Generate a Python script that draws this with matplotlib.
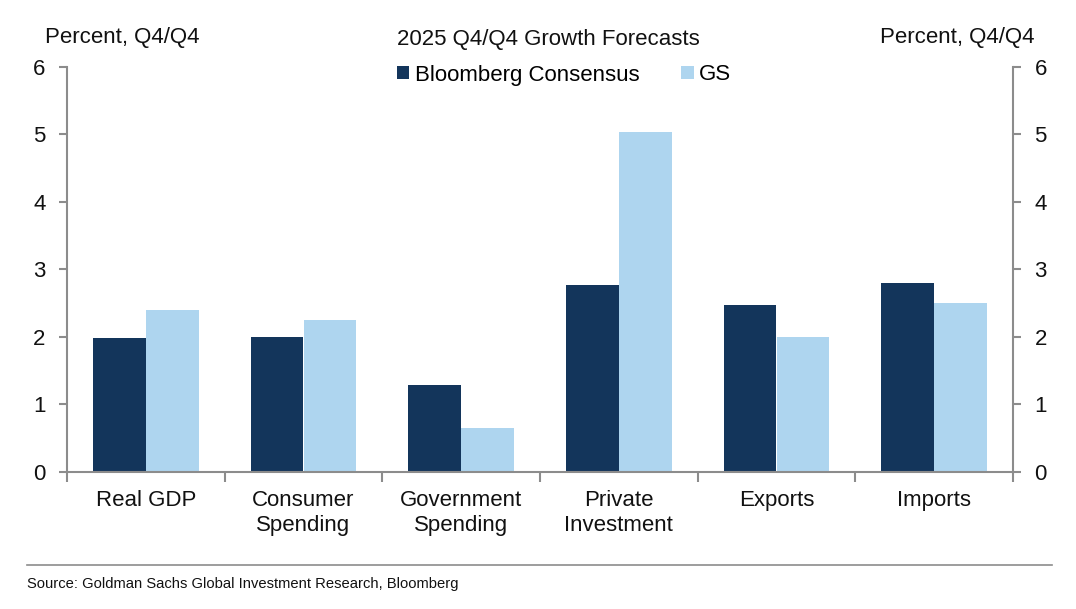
import matplotlib
matplotlib.use("Agg")
import matplotlib.pyplot as plt
import numpy as np
from matplotlib.patches import Patch
from matplotlib.lines import Line2D

categories = ["Real GDP", "Consumer\nSpending", "Government\nSpending", "Private\nInvestment", "Exports", "Imports"]
bloomberg = [1.98, 2.0, 1.28, 2.77, 2.47, 2.8]
gs = [2.4, 2.25, 0.64, 5.04, 2.0, 2.5]
yticks = [0, 1, 2, 3, 4, 5, 6]

DARK = "#13355B"
LIGHT = "#AED5EF"
GREY = "#8C8C8C"
TXT = "#111111"
FS = 16

plt.rcParams['font.family'] = ['Liberation Sans', 'DejaVu Sans']

fig = plt.figure(figsize=(10.76, 6.09), dpi=100)
ax = fig.add_axes([67/1076, 1-471.5/609, (1013-67)/1076, (471.5-67)/609])

x = np.arange(len(categories))
w = 0.336
ax.bar(x - w/2, bloomberg, w, color=DARK, label="Bloomberg Consensus")
ax.bar(x + w/2, gs, w, color=LIGHT, label="GS")

ax.set_xlim(-0.5, len(categories) - 0.5)
ax.set_ylim(0, 6)
ax.set_yticks(yticks)
ax.tick_params(axis='y', which='both', labelsize=FS, length=6, width=1.5, color=GREY, pad=9.5,
               left=True, right=True, labelleft=True, labelright=True, direction='out', labelcolor=TXT)
for s in ['left', 'right', 'bottom']:
    ax.spines[s].set_color(GREY)
    ax.spines[s].set_linewidth(1.5)
ax.spines['top'].set_visible(False)

ax.set_xticks(np.arange(-0.5, len(categories), 1.0))
ax.set_xticklabels([])
ax.tick_params(axis='x', which='major', length=7, width=1.5, color=GREY, direction='out')
ax.set_xticks(x, minor=True)
ax.set_xticklabels(categories, minor=True, fontsize=FS, linespacing=1.3)
ax.tick_params(axis='x', which='minor', length=0, pad=13, labelcolor=TXT)

fig.text(45/1076, 1-37/609, "Percent, Q4/Q4", fontsize=FS, ha='left', va='center', color=TXT)
fig.text(1034/1076, 1-37/609, "Percent, Q4/Q4", fontsize=FS, ha='right', va='center', color=TXT)
fig.text(548/1076, 1-40/609, "2025 Q4/Q4 Growth Forecasts", fontsize=FS, ha='center', va='center', color=TXT)

handles = [Patch(facecolor=DARK, edgecolor='none', label="Bloomberg Consensus"),
           Patch(facecolor=LIGHT, edgecolor='none', label="GS")]
fig.legend(handles=handles, loc='center', bbox_to_anchor=(564/1076, 1-75/609), ncol=2, frameon=False,
           fontsize=FS, handlelength=0.55, handleheight=0.55, handletextpad=0.25, columnspacing=1.9,
           borderaxespad=0, borderpad=0)

fig.add_artist(Line2D([27/1076, 1052/1076], [1-565/609, 1-565/609], color=GREY, linewidth=1.2))
fig.text(27/1076, 1-584/609, "Source: Goldman Sachs Global Investment Research, Bloomberg", fontsize=10.6,
         family=['Liberation Sans Narrow', 'Liberation Sans', 'DejaVu Sans'], ha='left', va='center', color=TXT)

fig.savefig("out.png", dpi=100)
